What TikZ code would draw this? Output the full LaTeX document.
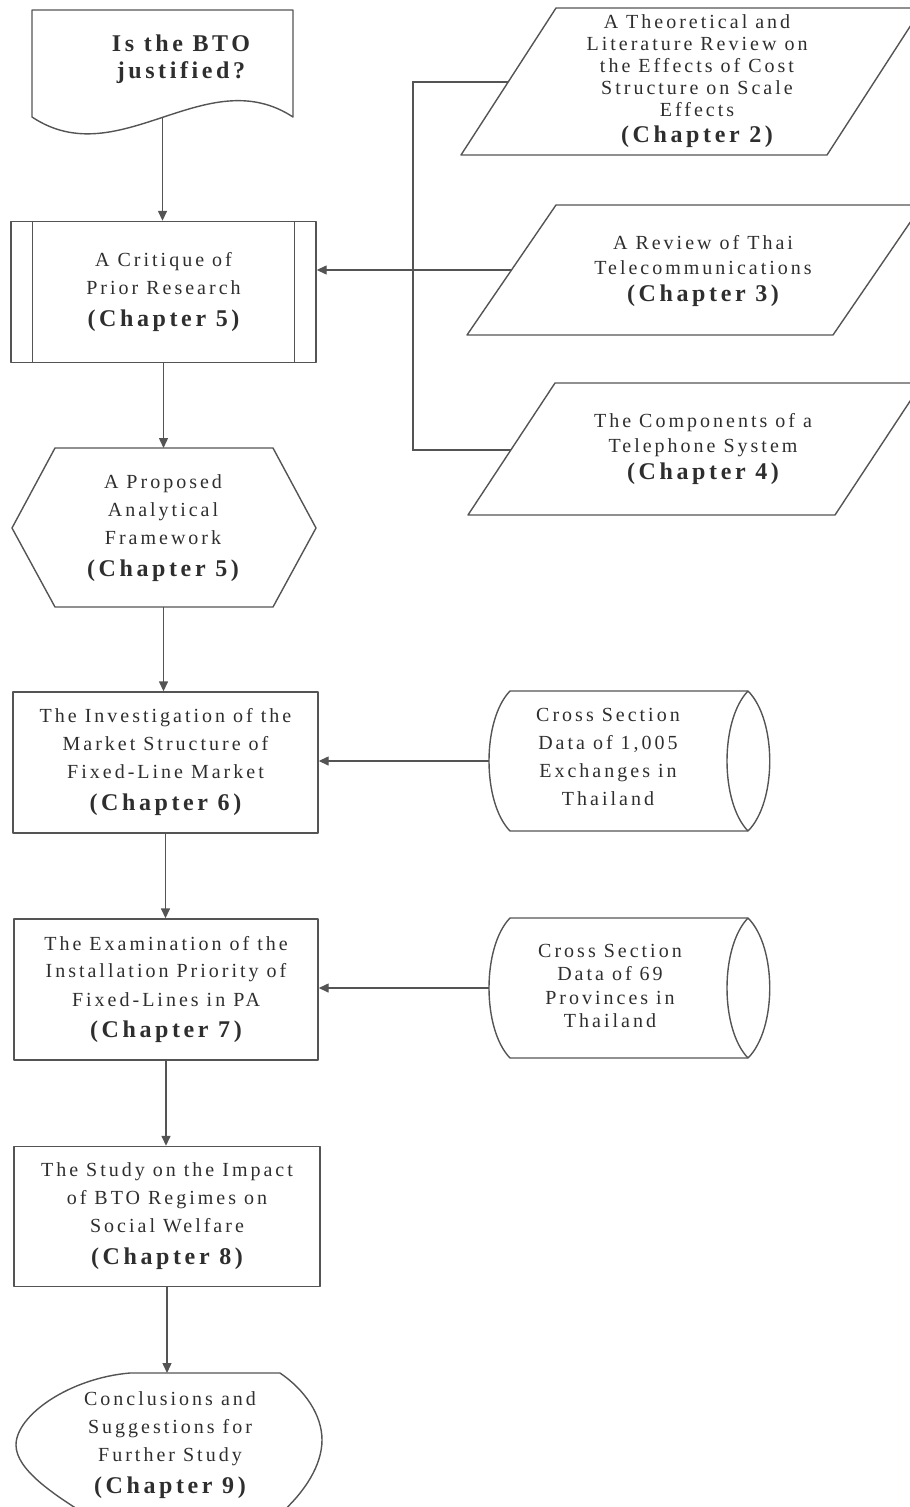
\documentclass[tikz,border=0pt]{standalone}
\usepackage{fontspec}
\setmainfont{Liberation Serif}
\newfontfamily\spacedserif[LetterSpace=15]{Liberation Serif}
\usetikzlibrary{arrows.meta}
\definecolor{ink}{gray}{0.18}
\definecolor{rule}{gray}{0.33}

% bold chapter reference line
\newcommand\chap[1]{{\fontsize{24}{28}\selectfont\bfseries (Chapter #1)}}

\begin{document}
\begin{tikzpicture}[x=1pt,y=-1pt,
  outline/.style={draw=rule, line width=1.4pt, line join=round},
  link/.style={draw=rule, line width=1.4pt},
  arrowlink/.style={link, -{Triangle[length=10pt,width=9pt]}},
  label/.style={align=center, text=ink, inner sep=0pt,
    font=\spacedserif\fontsize{20}{28}\selectfont},
  stepbox/.style={outline, label, minimum width=305pt, minimum height=141pt},
]
\useasboundingbox (0,0) rectangle (910,1507);

% ---------- question (document shape)
\draw[outline] (32,117) -- (32,10) -- (293,10) -- (293,117)
  .. controls (206,60) and (119,175) .. (32,117) -- cycle;
\coordinate (docS) at (162.5,117.4);
\node[label, font=\spacedserif\bfseries\fontsize{24}{27}\selectfont] (docT) at (181,59)
  {Is the BTO\\justified?};

% ---------- critique (predefined process)
\node[stepbox] (crit) at (163.5,292)
  {A Critique of\\Prior Research\\[4pt]\chap{5}};
\draw[link] ([xshift=22pt]crit.north west) -- ([xshift=22pt]crit.south west);
\draw[link] ([xshift=-22pt]crit.north east) -- ([xshift=-22pt]crit.south east);

% ---------- framework (hexagon)
\draw[outline] (12,528) -- (55,448) -- (273,448) -- (316,528) -- (273,607) -- (55,607) -- cycle;
\coordinate (hexN) at (163.5,448);
\coordinate (hexS) at (163.5,607);
\node[label] (hexT) at (163,528)
  {A Proposed\\Analytical\\Framework\\[4pt]\chap{5}};

% ---------- study boxes
\node[stepbox] (invest) at (165.5,762.5)
  {The Investigation of the\\Market Structure of\\Fixed-Line Market\\[4pt]\chap{6}};
\node[stepbox, minimum width=304pt] (exam) at (166,989.5)
  {The Examination of the\\Installation Priority of\\Fixed-Lines in PA\\[4pt]\chap{7}};
\node[stepbox, minimum width=306pt, minimum height=140pt] (study) at (167,1216.5)
  {The Study on the Impact\\of BTO Regimes on\\Social Welfare\\[4pt]\chap{8}};

% ---------- conclusions (terminal shape, cut by the page edge)
\draw[outline] (130,1373) -- (280,1373)
  .. controls (305,1390) and (322,1415) .. (322,1440)
  .. controls (322,1465) and (305,1492) .. (280,1514)
  -- (85,1514)
  .. controls (55,1495) and (16,1470) .. (16,1445)
  .. controls (16,1415) and (70,1378) .. (130,1373) -- cycle;
\coordinate (endN) at (167,1373);
\node[label] (endT) at (170,1445)
  {Conclusions and\\Suggestions for\\Further Study\\[4pt]\chap{9}};

% ---------- literature inputs (parallelograms)
\draw[outline] (461,155) -- (556,8) -- (922,8) -- (827,155) -- cycle;
\draw[outline] (467,335) -- (556,205) -- (922,205) -- (833,335) -- cycle;
\draw[outline] (468,515) -- (555,383) -- (922,383) -- (835,515) -- cycle;
\node[label, font=\spacedserif\fontsize{20}{22}\selectfont] (litA) at (697,81.5)
  {A Theoretical and\\Literature Review on\\the Effects of Cost\\Structure on Scale\\Effects\\[4pt]\chap{2}};
\node[label, font=\spacedserif\fontsize{20}{25}\selectfont] (litB) at (703,271)
  {A Review of Thai\\Telecommunications\\[2pt]\chap{3}};
\node[label, font=\spacedserif\fontsize{20}{25}\selectfont] (litC) at (703,449.5)
  {The Components of a\\Telephone System\\[2pt]\chap{4}};
\coordinate (litAW) at (508,82);
\coordinate (litBW) at (511,270);
\coordinate (litCW) at (511,450);
\coordinate (brTop) at (413,82);
\coordinate (brBot) at (413,450);

% ---------- data inputs (stored data shape)
\draw[outline] (510,691) -- (748,691) .. controls (777,720) and (777,802) .. (748,831)
  -- (510,831) .. controls (482,802) and (482,720) .. (510,691) -- cycle;
\draw[outline] (748,691) .. controls (720,720) and (720,802) .. (748,831);
\coordinate (dataAW) at (489,761);
\node[label] (dataA) at (608,757)
  {Cross Section\\Data of 1,005\\Exchanges in\\Thailand};

\draw[outline] (510,918) -- (748,918) .. controls (777,947) and (777,1029) .. (748,1058)
  -- (510,1058) .. controls (482,1029) and (482,947) .. (510,918) -- cycle;
\draw[outline] (748,918) .. controls (720,947) and (720,1029) .. (748,1058);
\coordinate (dataBW) at (489,988);
\node[label, font=\spacedserif\fontsize{20}{23.3}\selectfont] (dataB) at (610,986)
  {Cross Section\\Data of 69\\Provinces in\\Thailand};

% ---------- connectors
\draw[arrowlink] (docS) -- (docS |- crit.north);
\draw[arrowlink] (crit.south) -- (crit.south |- hexN);
\draw[arrowlink] (hexS) -- (hexS |- invest.north);
\draw[arrowlink] (invest.south) -- (invest.south |- exam.north);
\draw[arrowlink] (exam.south) -- (exam.south |- study.north);
\draw[arrowlink] (study.south) -- (study.south |- endN);

\draw[link] (litAW) -- (brTop) -- (brBot) -- (litCW);
\draw[arrowlink] (litBW) -- (litBW -| crit.east);
\draw[arrowlink] (dataAW) -- (dataAW -| invest.east);
\draw[arrowlink] (dataBW) -- (dataBW -| exam.east);
\end{tikzpicture}
\end{document}
